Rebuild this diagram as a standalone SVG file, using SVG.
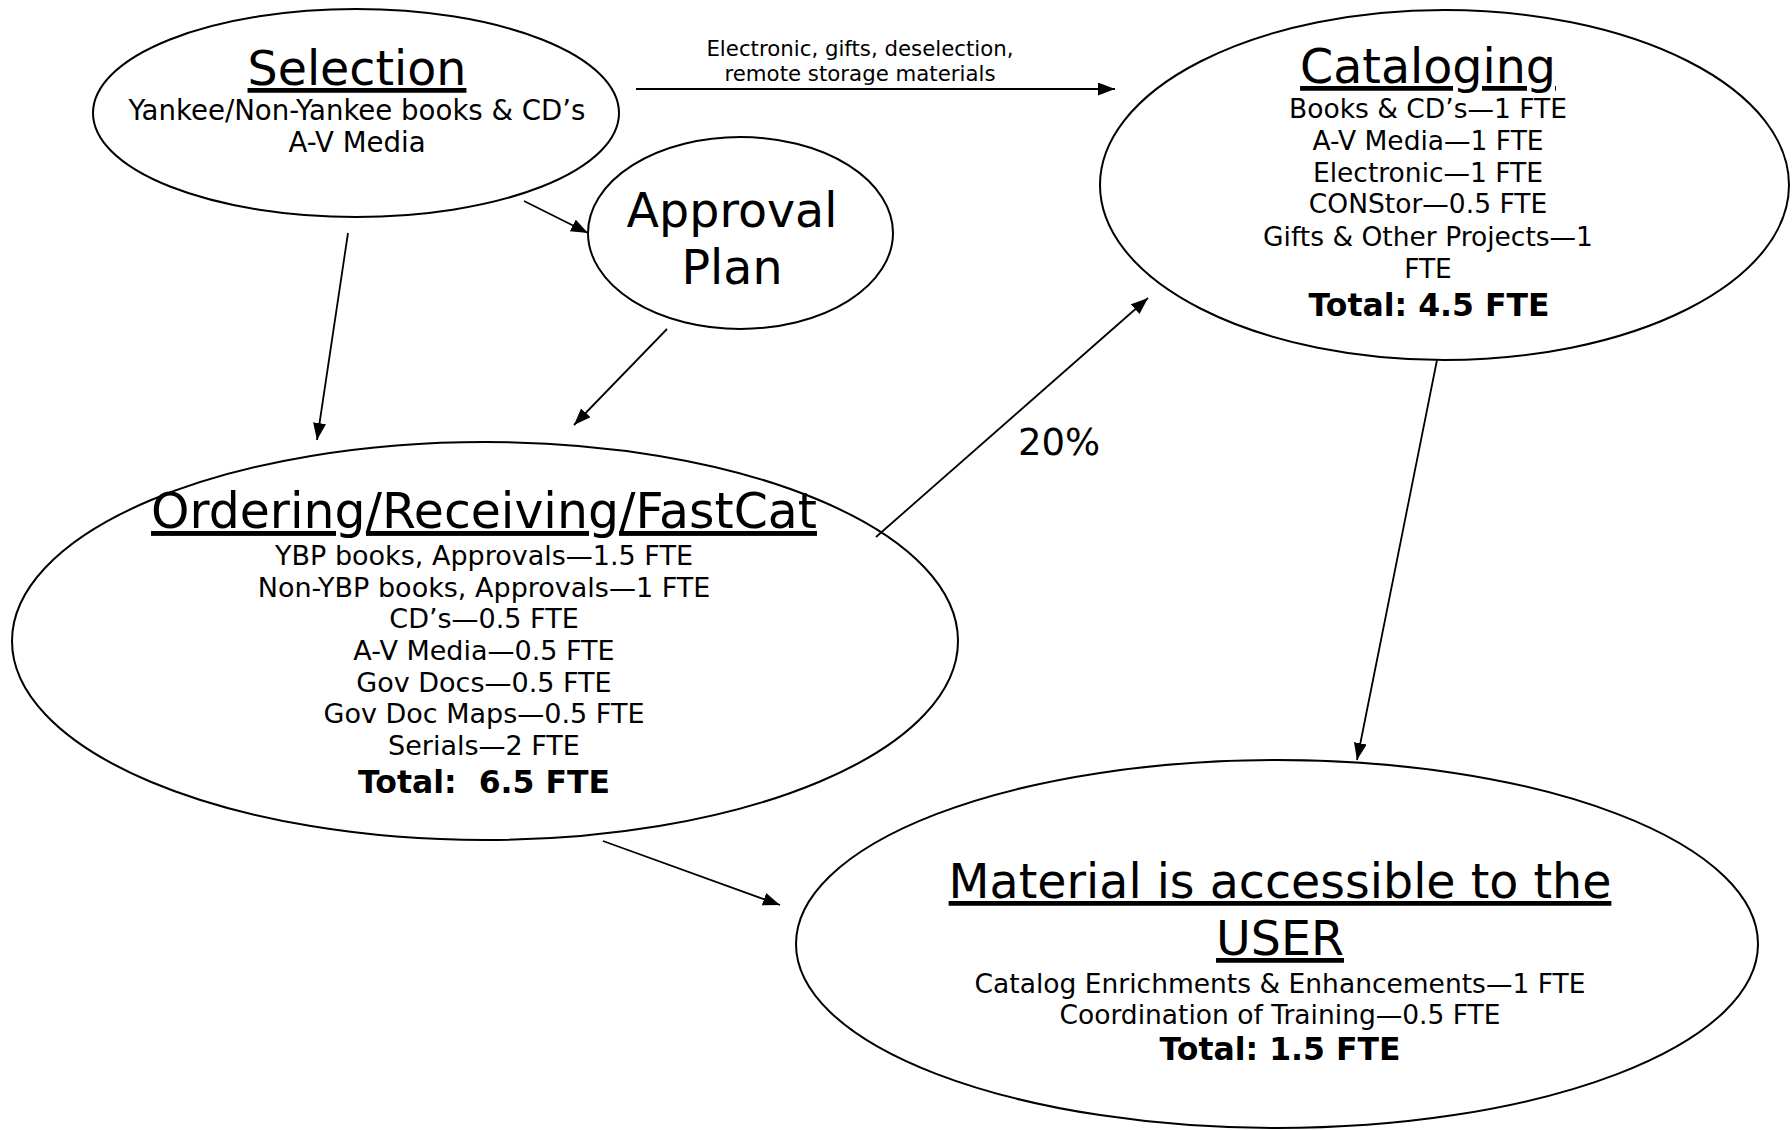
<svg xmlns="http://www.w3.org/2000/svg" width="1792" height="1130" viewBox="0 0 1792 1130">
<defs>
<style>
text{font-family:"DejaVu Sans","Verdana",sans-serif;fill:#000;text-anchor:middle}
.node{fill:#fff;stroke:#000;stroke-width:2}
.title{font-size:47.5px;text-decoration:underline;text-decoration-thickness:2.5px}
.big{font-size:47.5px}
.body{font-size:26.5px}
.total{font-size:31.5px;font-weight:bold}
.lbl{font-size:21.3px}
.pct{font-size:37px;text-anchor:start}
.edge{stroke:#000;stroke-width:1.8;fill:none;marker-end:url(#arr)}
</style>
<marker id="arr" markerUnits="userSpaceOnUse" markerWidth="18" markerHeight="14" refX="17" refY="6.5" orient="auto">
<path d="M0,0 L17,6.5 L0,13 z" fill="#000"/>
</marker>
</defs>
<rect width="1792" height="1130" fill="#fff"/>

<g id="selection">
<ellipse class="node" cx="356" cy="113" rx="263" ry="104"/>
<text class="title" x="357" y="85">Selection</text>
<text class="body" x="357" y="120" style="font-size:27.6px">Yankee/Non-Yankee books &amp; CD’s</text>
<text class="body" x="357" y="152" style="font-size:27.6px">A-V Media</text>
</g>

<g id="approval">
<ellipse class="node" cx="740.5" cy="233" rx="152.5" ry="96"/>
<text class="big" x="732" y="227">Approval</text>
<text class="big" x="732" y="284">Plan</text>
</g>

<g id="cataloging">
<ellipse class="node" cx="1444.5" cy="185" rx="344.5" ry="175"/>
<text class="title" x="1428" y="83">Cataloging</text>
<text class="body" x="1428" y="118">Books &amp; CD’s—1 FTE</text>
<text class="body" x="1428" y="150">A-V Media—1 FTE</text>
<text class="body" x="1428" y="182">Electronic—1 FTE</text>
<text class="body" x="1428" y="213">CONStor—0.5 FTE</text>
<text class="body" x="1428" y="246">Gifts &amp; Other Projects—1</text>
<text class="body" x="1428" y="278">FTE</text>
<text class="total" x="1429" y="316">Total: 4.5 FTE</text>
</g>

<g id="ordering">
<ellipse class="node" cx="485" cy="641" rx="473" ry="199"/>
<text class="title" x="484" y="528" style="font-size:48.9px">Ordering/Receiving/FastCat</text>
<text class="body" x="484" y="565" style="font-size:27px">YBP books, Approvals—1.5 FTE</text>
<text class="body" x="484" y="597" style="font-size:27px">Non-YBP books, Approvals—1 FTE</text>
<text class="body" x="484" y="628" style="font-size:27px">CD’s—0.5 FTE</text>
<text class="body" x="484" y="660" style="font-size:27px">A-V Media—0.5 FTE</text>
<text class="body" x="484" y="692" style="font-size:27px">Gov Docs—0.5 FTE</text>
<text class="body" x="484" y="723" style="font-size:27px">Gov Doc Maps—0.5 FTE</text>
<text class="body" x="484" y="755" style="font-size:27px">Serials—2 FTE</text>
<text class="total" x="484" y="793" xml:space="preserve">Total:  6.5 FTE</text>
</g>

<g id="material">
<ellipse class="node" cx="1277" cy="944" rx="481" ry="184"/>
<text class="title" x="1280" y="898">Material is accessible to the</text>
<text class="title" x="1280" y="955">USER</text>
<text class="body" x="1280" y="993">Catalog Enrichments &amp; Enhancements—1 FTE</text>
<text class="body" x="1280" y="1024">Coordination of Training—0.5 FTE</text>
<text class="total" x="1280" y="1060">Total: 1.5 FTE</text>
</g>

<g id="connectors">
<line class="edge" x1="636" y1="89" x2="1115" y2="89"/>
<text class="lbl" x="860" y="56">Electronic, gifts, deselection,</text>
<text class="lbl" x="860" y="81">remote storage materials</text>
<line class="edge" x1="348" y1="233" x2="317" y2="440"/>
<line class="edge" x1="524" y1="201" x2="588" y2="233"/>
<line class="edge" x1="667" y1="329" x2="574" y2="425"/>
<line class="edge" x1="876" y1="537" x2="1148" y2="298"/>
<text class="pct" x="1018" y="455">20%</text>
<line class="edge" x1="1437" y1="360" x2="1357" y2="760"/>
<line class="edge" x1="603" y1="841" x2="780" y2="905"/>
</g>
</svg>
